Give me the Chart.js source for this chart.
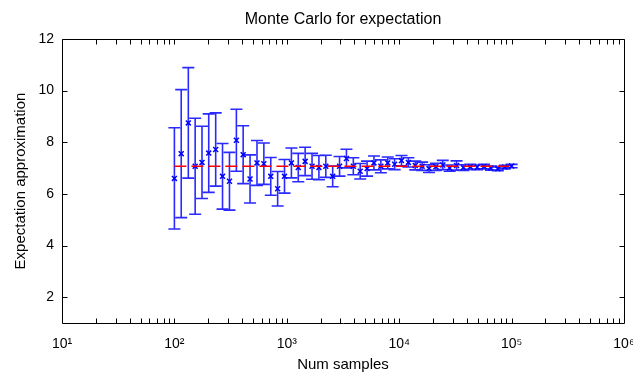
<!DOCTYPE html>
<html>
<head>
<meta charset="utf-8">
<script src="https://cdn.jsdelivr.net/npm/chart.js@4/dist/chart.umd.min.js"></script>
<style>
  body { margin: 0; background: #fff; }
  #wrap { width: 633px; height: 372px; }
</style>
</head>
<body>
<div id="wrap"><canvas id="chart"></canvas></div>
<script>
// sample sizes (x), sample means and half-width of the error bars
const sampleSizes = [100, 115, 133, 153, 176, 202, 233, 268, 309, 356,
  409, 471, 543, 625, 720, 829, 954, 1099, 1265, 1456,
  1677, 1931, 2223, 2560, 2947, 3393, 3907, 4498, 5179, 5964,
  6866, 7906, 9103, 10481, 12068, 13895, 15999, 18421, 21210, 24421,
  28118, 32375, 37276, 42919, 49417, 56899, 65513, 75431, 86851, 100000];
const means = [6.60, 7.56, 8.75, 7.07, 7.22, 7.58, 7.72, 6.68, 6.49, 8.08,
  7.52, 6.58, 7.20, 7.17, 6.68, 6.20, 6.68, 7.20, 7.02, 7.26,
  7.07, 7.02, 7.07, 6.68, 7.07, 7.37, 7.07, 6.88, 6.98, 7.20,
  7.07, 7.20, 7.15, 7.29, 7.22, 7.10, 7.07, 6.98, 7.05, 7.12,
  7.00, 7.10, 7.02, 7.05, 7.03, 7.06, 7.00, 6.97, 7.04, 7.08];
const errors = [1.96, 2.48, 2.14, 1.86, 1.40, 1.52, 1.42, 1.27, 1.12, 1.20,
  1.12, 0.93, 0.87, 0.80, 0.73, 0.67, 0.65, 0.58, 0.55, 0.55,
  0.50, 0.47, 0.43, 0.40, 0.38, 0.36, 0.33, 0.30, 0.29, 0.27,
  0.25, 0.23, 0.21, 0.20, 0.18, 0.17, 0.16, 0.15, 0.14, 0.18,
  0.12, 0.18, 0.11, 0.10, 0.09, 0.09, 0.08, 0.07, 0.07, 0.065];
const trueMean = 7.07;
const lineRange = [100, 100000];

const xTickValues = [10, 100, 1000, 10000, 100000, 1000000];
const xTickLabels = ['10\u00B9', '10\u00B2', '10\u00B3', '10\u2074', '10\u2075', '10\u2076'];
const yTickValues = [2, 4, 6, 8, 10, 12];

const titleText = 'Monte Carlo for expectation';
const FONT = "'Liberation Sans', Arial, sans-serif";

Chart.defaults.font.family = FONT;
Chart.defaults.color = '#000';

// vertical bars with caps, drawn under the markers
const errorBars = {
  id: 'errorBars',
  beforeDatasetsDraw(chart) {
    const {ctx, scales: {x, y}} = chart;
    const cap = 6;
    ctx.save();
    ctx.strokeStyle = '#2a2aff';
    ctx.lineWidth = 1.6;
    sampleSizes.forEach((n, i) => {
      const px = x.getPixelForValue(n);
      const top = y.getPixelForValue(means[i] + errors[i]);
      const bot = y.getPixelForValue(means[i] - errors[i]);
      ctx.beginPath();
      ctx.moveTo(px, top); ctx.lineTo(px, bot);
      ctx.moveTo(px - cap, top); ctx.lineTo(px + cap, top);
      ctx.moveTo(px - cap, bot); ctx.lineTo(px + cap, bot);
      ctx.stroke();
    });
    ctx.restore();
  }
};

// matlab style box with inward ticks, plus the title
const axesBox = {
  id: 'axesBox',
  afterDraw(chart) {
    const {ctx, chartArea: a, scales: {x, y}} = chart;
    const L = Math.round(a.left) + 0.5, R = Math.round(a.right) + 0.5;
    const T = Math.round(a.top) + 0.5, B = Math.round(a.bottom) + 0.5;
    const tl = 5;
    ctx.save();
    ctx.strokeStyle = '#000';
    ctx.lineWidth = 1;
    ctx.beginPath();
    ctx.rect(L, T, R - L, B - T);
    for (let d = 1; d < 6; d++) {
      for (let m = 1; m < 10; m++) {
        const v = m * Math.pow(10, d);
        if (v <= 10) continue;
        const px = Math.round(x.getPixelForValue(v)) + 0.5;
        ctx.moveTo(px, B); ctx.lineTo(px, B - tl);
        ctx.moveTo(px, T); ctx.lineTo(px, T + tl);
      }
    }
    yTickValues.forEach(v => {
      const py = Math.round(y.getPixelForValue(v)) + 0.5;
      ctx.moveTo(L, py); ctx.lineTo(L + tl, py);
      ctx.moveTo(R, py); ctx.lineTo(R - tl, py);
    });
    ctx.stroke();
    ctx.fillStyle = '#000';
    ctx.font = '16px ' + FONT;
    ctx.textAlign = 'center';
    ctx.textBaseline = 'alphabetic';
    ctx.fillText(titleText, (a.left + a.right) / 2, 24);
    ctx.restore();
  }
};

new Chart(document.getElementById('chart'), {
  type: 'scatter',
  data: {
    datasets: [{
      label: 'true value',
      data: lineRange.map(v => ({x: v, y: trueMean})),
      showLine: true,
      borderColor: '#ff0000',
      borderWidth: 1.5,
      borderDash: [12, 5],
      pointRadius: 0
    }, {
      label: 'estimate',
      data: sampleSizes.map((n, i) => ({x: n, y: means[i]})),
      pointStyle: 'crossRot',
      pointRadius: 3.5,
      borderColor: '#0000ff',
      backgroundColor: '#0000ff',
      borderWidth: 1.5
    }]
  },
  options: {
    responsive: true,
    maintainAspectRatio: false,
    animation: false,
    layout: { padding: { top: 39, right: 9, left: 0, bottom: 0 } },
    plugins: {
      legend: { display: false },
      tooltip: { enabled: false },
      title: { display: false }
    },
    scales: {
      x: {
        type: 'logarithmic',
        min: 10,
        max: 1000000,
        grid: { display: false, drawTicks: false },
        border: { display: false },
        afterBuildTicks: s => { s.ticks = xTickValues.map(v => ({value: v})); },
        afterFit: s => { s.height = 49; s.paddingLeft = 0; s.paddingRight = 0; },
        ticks: {
          autoSkip: false,
          maxRotation: 0,
          padding: 13,
          font: { size: 14 },
          callback: v => xTickLabels[xTickValues.indexOf(v)]
        },
        title: {
          display: true,
          text: 'Num samples',
          font: { size: 15, lineHeight: 1 },
          padding: { top: 0, bottom: 0 }
        }
      },
      y: {
        min: 1,
        max: 12,
        grid: { display: false, drawTicks: false },
        border: { display: false },
        afterBuildTicks: s => { s.ticks = yTickValues.map(v => ({value: v})); },
        afterFit: s => { s.width = 62; s.paddingTop = 0; s.paddingBottom = 0; },
        ticks: {
          padding: 8,
          font: { size: 14 }
        },
        title: {
          display: true,
          text: 'Expectation approximation',
          font: { size: 15, lineHeight: 1 },
          padding: { top: 13, bottom: 0 }
        }
      }
    }
  },
  plugins: [errorBars, axesBox]
});
</script>
</body>
</html>
